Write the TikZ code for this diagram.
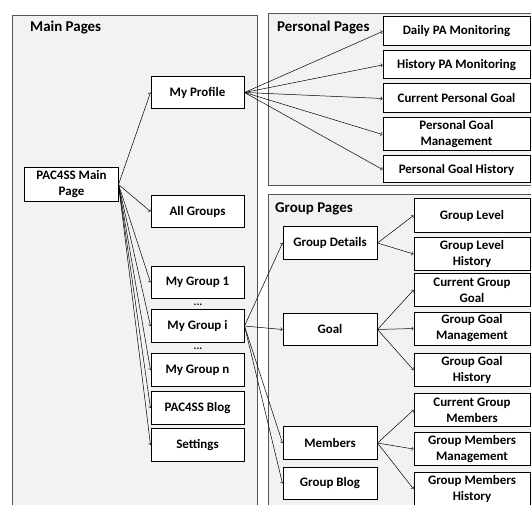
\documentclass[tikz,border=0pt]{standalone}
\usepackage{fontspec}
\setmainfont{Carlito}
\usepackage{tikz}

\definecolor{panelgray}{HTML}{F2F2F2}
\definecolor{edgegray}{HTML}{555555}

\tikzset{
  panel/.style={draw=edgegray, fill=panelgray, line width=0.9bp},
  paneltitle/.style={anchor=west, inner sep=0pt, font=\bfseries\fontsize{15}{18}\selectfont},
  page/.style={draw=black, fill=white, line width=1bp, align=center, inner sep=1bp,
    font=\bfseries\fontsize{13}{16}\selectfont},
  link/.style={->, line width=0.5bp}
}

\begin{document}
\begin{tikzpicture}[x=1bp,y=-1bp]
        \useasboundingbox (0,0) rectangle (531,505);
        \clip (0,0) rectangle (531,505);

        % Panels
        \draw[panel] (12,15) rectangle (257,520);
        \draw[panel] (268,13) rectangle (545,185);
        \draw[panel] (268,194) rectangle (545,520);
        \node[paneltitle] (tmain) at (30,28) {Main Pages};
        \node[paneltitle] (tpers) at (277,28) {Personal Pages};
        \node[paneltitle] (tgrp) at (275,209) {Group Pages};

        % Main pages
        \node[page, minimum width=93bp, minimum height=33bp] (main) at (71.5,184.5) {PAC4SS Main\\Page};
        \foreach \nm/\y/\txt in {profile/92.5/My Profile, allgroups/211.5/All Groups,
            group1/282.5/My Group 1, groupi/326/My Group i, groupn/370/My Group n,
            blog/408/PAC4SS Blog, settings/445/Settings} {
            \node[page, minimum width=93bp, minimum height=32.5bp] (\nm) at (197.5,\y) {\txt};
        }
        \node[font=\bfseries\fontsize{11}{11}\selectfont, inner sep=0pt] (dots1) at (198,304.5) {...};
        \node[font=\bfseries\fontsize{11}{11}\selectfont, inner sep=0pt] (dots2) at (198,348.5) {...};

        % Personal pages
        \foreach \nm/\y/\h/\txt in {daily/31.5/29/Daily PA Monitoring, histpa/65/28/History PA Monitoring,
            curpg/98.5/29/Current Personal Goal, pgman/134.5/33/{Personal Goal\\Management},
            pghist/169.5/27/Personal Goal History} {
            \node[page, minimum width=147bp, minimum height=\h bp] (\nm) at (456.5,\y) {\txt};
        }

        % Group pages
        \foreach \nm/\y/\txt in {details/243/Group Details, goal/329.5/Goal,
            members/443/Members, gblog/483.5/Group Blog} {
            \node[page, minimum width=94bp, minimum height=32.5bp] (\nm) at (330,\y) {\txt};
        }
        \foreach \nm/\y/\txt in {gl/215.5/Group Level, glh/254/{Group Level\\History},
            cgg/290/{Current Group\\Goal}, ggm/328.5/{Group Goal\\Management},
            ggh/370/{Group Goal\\History}, cgm/410/{Current Group\\Members},
            gmm/449/{Group Members\\Management}, gmh/489/{Group Members\\History}} {
            \node[page, minimum width=116bp, minimum height=33bp] (\nm) at (472,\y) {\txt};
        }

        % Links
        \foreach \t in {profile,allgroups,group1,groupi,groupn,blog,settings}
            \draw[link] (main.east) -- (\t.west);
        \foreach \t in {daily,histpa,curpg,pgman,pghist}
            \draw[link] (profile.east) -- (\t.west);
        \foreach \t in {details,goal,members,gblog}
            \draw[link] (groupi.east) -- (\t.west);
        \foreach \t in {gl,glh}
            \draw[link] (details.east) -- (\t.west);
        \foreach \t in {cgg,ggm,ggh}
            \draw[link] (goal.east) -- (\t.west);
        \foreach \t in {cgm,gmm,gmh}
            \draw[link] (members.east) -- (\t.west);
\end{tikzpicture}
\end{document}
